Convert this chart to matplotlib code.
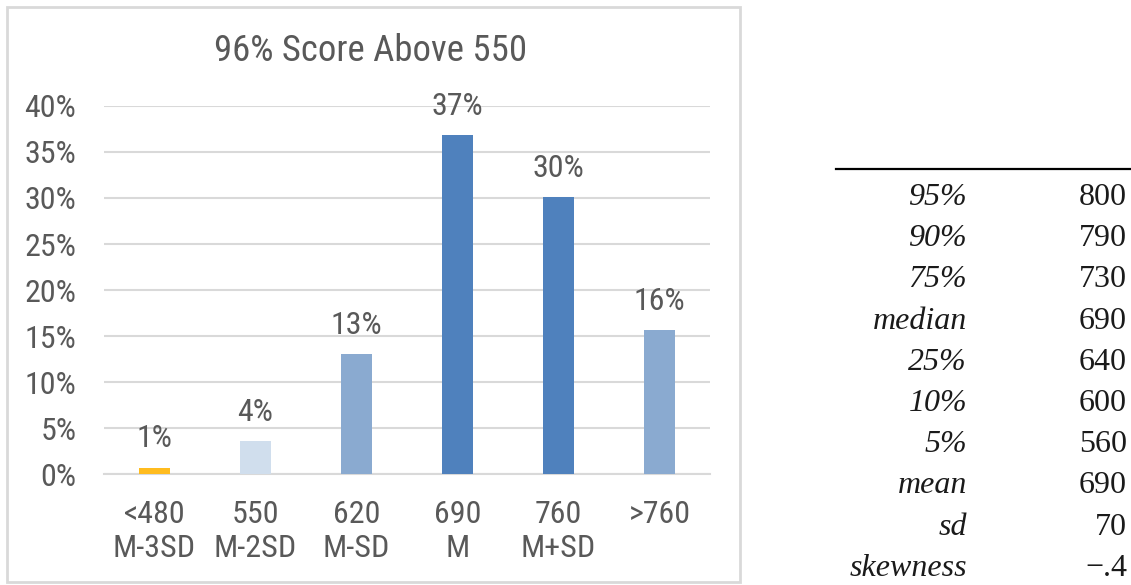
import matplotlib
matplotlib.use("Agg")
import matplotlib.pyplot as plt
from matplotlib.patches import Rectangle
import numpy as np

categories = ["<480\nM-3SD", "550\nM-2SD", "620\nM-SD", "690\nM", "760\nM+SD", ">760"]
shares = [0.7, 3.6, 13.0, 36.8, 30.1, 15.6]
bar_colors = ["#FFBC1F", "#D0DEED", "#8AAAD0", "#4F81BD", "#4F81BD", "#8AAAD0"]
yticks = [0, 5, 10, 15, 20, 25, 30, 35, 40]

stat_names = ["95%", "90%", "75%", "median", "25%", "10%", "5%", "mean", "sd", "skewness"]
stat_values = ["800", "790", "730", "690", "640", "600", "560", "690", "70", "\u2212.4"]

cond = "Roboto Condensed"
grey = "#595959"

W, H = 1131, 585
fig = plt.figure(figsize=(W / 100, H / 100), dpi=100)

# chart frame
fig.patches.append(Rectangle((7 / W, 1 - 582 / H), 733 / W, 575 / H, transform=fig.transFigure,
                             fill=False, edgecolor="#D9D9D9", linewidth=2))

ax = fig.add_axes([104 / W, 1 - 474 / H, 606 / W, 368 / H])
x = np.arange(len(categories))
ax.bar(x, shares, width=0.31, color=bar_colors, zorder=3)
for xi, v in zip(x, shares):
    ax.annotate(f"{v:.0f}%", (xi, v), xytext=(0, 14.5), textcoords="offset points",
                ha="center", va="baseline", fontsize=23, color=grey, family=cond)

ax.set_xlim(-0.5, len(categories) - 0.5)
ax.set_ylim(0, 40)
ax.set_yticks(yticks)
ax.set_yticklabels([f"{t}%" for t in yticks], family=cond, fontsize=23, color=grey)
ax.set_xticks(x)
ax.set_xticklabels(categories, family=cond, fontsize=23, color=grey, linespacing=1.2)
ax.tick_params(axis="both", length=0)
ax.tick_params(axis="x", pad=19)
ax.tick_params(axis="y", pad=20)
ax.grid(axis="y", color="#D9D9D9", linewidth=1.5, zorder=0)
for s in ["top", "right", "left"]:
    ax.spines[s].set_visible(False)
ax.spines["bottom"].set_color("#D9D9D9")
ax.spines["bottom"].set_linewidth(1.5)

fig.text(371 / W, 1 - 51 / H, "96% Score Above 550", ha="center", va="center",
         fontsize=26.5, color=grey, family=cond)

# statistics table
fig.add_artist(plt.Line2D([836 / W, 1.0], [1 - 169 / H, 1 - 169 / H], transform=fig.transFigure,
                          color="black", linewidth=1.6))
row_base, row_step = 205, 41.2
for i, (name, val) in enumerate(zip(stat_names, stat_values)):
    y = 1 - (row_base + i * row_step) / H
    fig.text(967 / W, y, name, ha="right", va="baseline", fontsize=23, style="italic",
             family="Liberation Serif", color="#1a1a1a")
    fig.text(1127 / W, y, val, ha="right", va="baseline", fontsize=23,
             family="Liberation Serif", color="#1a1a1a")

fig.savefig("out.png", dpi=100)
